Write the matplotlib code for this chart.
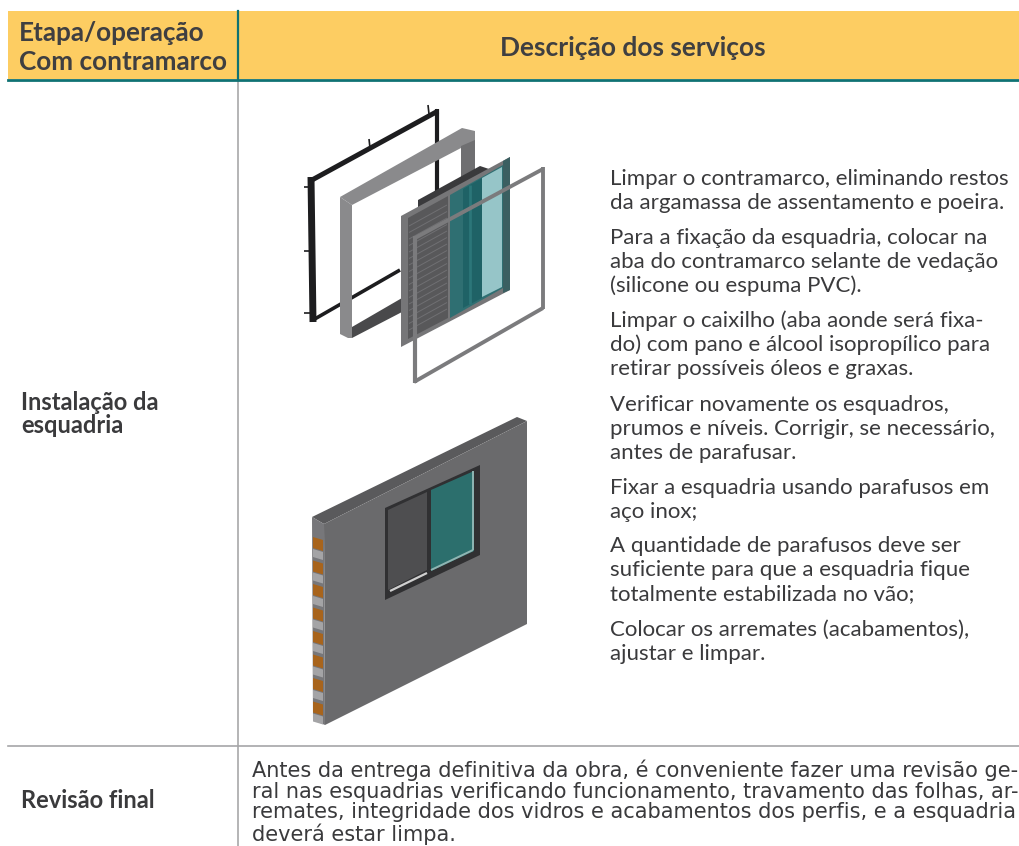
import matplotlib
matplotlib.use("Agg")
import matplotlib.pyplot as plt
from matplotlib.patches import Polygon, Rectangle

plt.rcParams['font.family'] = ['Lato', 'DejaVu Sans']

header_left = ["Etapa/operação", "Com contramarco"]
header_right = "Descrição dos serviços"
row_labels = [["Instalação da", "esquadria"], ["Revisão final"]]
steps = [
    ["Limpar o contramarco, eliminando restos", "da argamassa de assentamento e poeira."],
    ["Para a fixação da esquadria, colocar na", "aba do contramarco selante de vedação", "(silicone ou espuma PVC)."],
    ["Limpar o caixilho (aba aonde será fixa-", "do) com pano e álcool isopropílico para", "retirar possíveis óleos e graxas."],
    ["Verificar novamente os esquadros,", "prumos e níveis. Corrigir, se necessário,", "antes de parafusar."],
    ["Fixar a esquadria usando parafusos em", "aço inox;"],
    ["A quantidade de parafusos deve ser", "suficiente para que a esquadria fique", "totalmente estabilizada no vão;"],
    ["Colocar os arremates (acabamentos),", "ajustar e limpar."],
]
steps_y = [185, 244, 327, 411, 494, 552, 636]
final_lines = [
    "Antes da entrega definitiva da obra, é conveniente fazer uma revisão ge-",
    "ral nas esquadrias verificando funcionamento, travamento das folhas, ar-",
    "remates, integridade dos vidros e acabamentos dos perfis, e a esquadria",
    "deverá estar limpa.",
]
final_y = [777, 798, 818, 841]

yellow = "#fdcd62"
teal = "#0f7273"
dark = "#3f3f41"
body = "#3a3a3c"

W, H = 1019, 846
fig = plt.figure(figsize=(W / 100, H / 100), dpi=100)
ax = fig.add_axes([0, 0, 1, 1])
ax.set_xlim(0, W)
ax.set_ylim(H, 0)
ax.axis("off")


def poly(pts, color, z=2):
    ax.add_patch(Polygon(pts, closed=True, fc=color, ec="none", zorder=z))


def seg(p, q, color, lw, z=2):
    ax.plot([p[0], q[0]], [p[1], q[1]], color=color, lw=lw, zorder=z, solid_capstyle="butt")


# table frame
ax.add_patch(Rectangle((8, 11), W - 8, 68, fc=yellow, ec="none", zorder=1))
ax.plot([8, W], [80, 80], color=teal, lw=2, zorder=3)
ax.plot([238, 238], [11, 80], color=teal, lw=1.6, zorder=3)
ax.plot([238, 238], [81, 846], color="#b4b4b6", lw=1.4, zorder=1)
ax.plot([8, W], [746, 746], color="#a6a6a8", lw=1.2, zorder=1)

# header text
for txt, y in zip(header_left, [41, 70]):
    ax.text(19, y, txt, fontsize=18.8, fontweight="bold", color=dark, va="baseline", ha="left")
ax.text(633, 56, header_right, fontsize=19, fontweight="bold", color=dark, va="baseline", ha="center")

# row labels
for txt, y in zip(row_labels[0], [410, 433]):
    ax.text(21, y, txt, fontsize=17, fontweight="bold", color=body, va="baseline", ha="left")
ax.text(21, 808, row_labels[1][0], fontsize=17, fontweight="bold", color=body, va="baseline", ha="left")

# step paragraphs
for para, y0 in zip(steps, steps_y):
    for i, line in enumerate(para):
        ax.text(610, y0 + i * 24.2, line, fontsize=16, color=body, va="baseline", ha="left")

# final paragraph: DejaVu is wide enough to look like the tracked original, lines fitted to the column
fig.canvas.draw()
rend = fig.canvas.get_renderer()
fit = 13
for n, (line, y) in enumerate(zip(final_lines, final_y)):
    t = ax.text(252, y, line, fontsize=13, color=body, va="baseline", ha="left", family="DejaVu Sans")
    if n < 3:
        fit = 13 * 766 / t.get_window_extent(rend).width
    t.set_fontsize(fit)

# exploded window: black subframe
blk = "#1d1d1f"
seg((312, 180), (438, 111), blk, 3.6)
seg((311, 177), (313, 322), blk, 5)
seg((313, 320), (400, 270), blk, 2.6)
seg((437, 109), (437, 195), blk, 3)
for y in [187, 251, 313]:
    seg((304, y), (312, y), blk, 1.2)
for x, y in [(369, 139), (428, 105)]:
    seg((x, y), (x + 1, y + 9), blk, 1.2)

# grey counterframe
g1 = "#8a8a8c"
g2 = "#6f6f71"
poly([(340, 197), (462, 128), (475, 131), (475, 142), (461, 148), (352, 205)], g1, 3)
poly([(461, 146), (475, 140), (475, 172), (461, 178)], g2, 3)
poly([(340, 197), (352, 205), (352, 338), (348, 338), (340, 334)], g1, 3)
poly([(352, 327), (402, 298), (402, 312), (352, 338)], "#49494b", 3)

# shutter and glass leaves
poly([(418, 200), (480, 166), (492, 170), (418, 212)], "#3a3a3c", 3)
poly([(401, 216), (510, 157), (510, 290), (401, 347)], "#767678", 4)
poly([(408, 218), (448, 196), (448, 318), (408, 339)], "#58585a", 4)
for i in range(17):
    seg((409, 226 + i * 6.5), (447, 205 + i * 6.5), "#707073", 0.7, 5)
poly([(450, 195), (503, 165), (503, 288), (450, 318)], "#2f6f72", 4)
poly([(482, 178), (502, 167), (502, 287), (482, 297)], "#96c5c8", 5)
poly([(463, 189), (482, 178), (482, 298), (463, 308)], "#1f6266", 5)
seg((470, 185), (470, 304), "#2c7679", 2, 5)
poly([(503, 161), (510, 157), (510, 290), (503, 293)], "#3b5f61", 5)

# loose glazing frame
seg((415, 238), (543, 169), "#7b7b7d", 2.8, 6)
seg((543, 167), (543, 309), "#7b7b7d", 2.8, 6)
seg((543, 308), (414, 382), "#7b7b7d", 2.8, 6)
seg((415, 236), (415, 383), "#7b7b7d", 3, 6)

# wall with fitted window
wall = "#6a6a6c"
poly([(312, 517), (517, 417), (527, 421), (324, 524)], "#5a5a5c", 2)
poly([(324, 524), (527, 421), (527, 624), (325, 725)], wall, 2)
poly([(312, 517), (324, 524), (325, 725), (313, 720)], "#77777a", 2)
for i in range(8):
    y0 = 537 + i * 23.5
    poly([(313, y0), (323, y0 + 3), (323, y0 + 14), (313, y0 + 11)], "#a8641c", 3)
    poly([(313, y0 + 12), (323, y0 + 15), (323, y0 + 23), (313, y0 + 20)], "#a4a4a6", 3)
poly([(385, 508), (480, 465), (480, 555), (385, 600)], "#303032", 3)
poly([(388, 510), (427, 492), (427, 570), (388, 590)], "#4e4e50", 4)
poly([(431, 490), (474, 471), (474, 551), (431, 571)], "#2c6f6d", 4)
seg((390, 591), (427, 573), "#cfcfcf", 1.6, 5)
seg((431, 570), (473, 550), "#8fb5b3", 1.4, 5)
seg((473, 471), (473, 550), "#8fb5b3", 1.4, 5)

fig.savefig("out.png", dpi=100, facecolor="white")
